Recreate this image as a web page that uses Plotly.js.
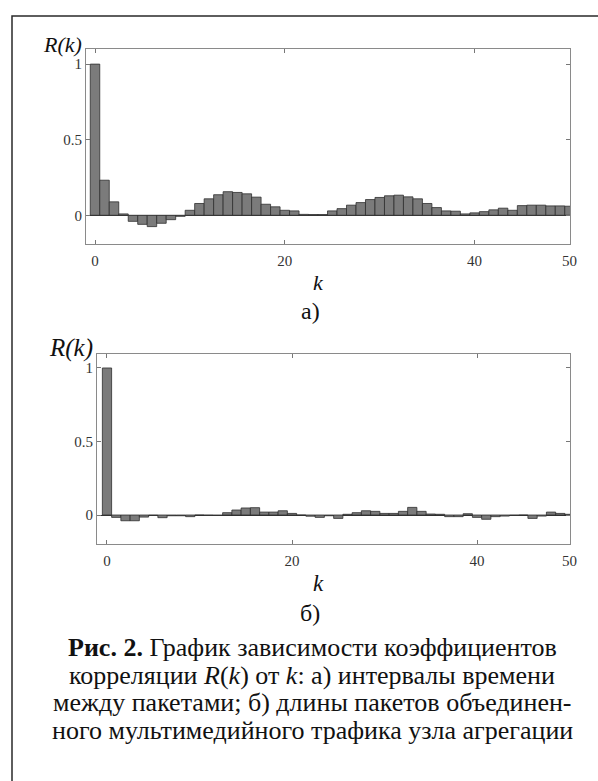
<!DOCTYPE html>
<html>
<head>
<meta charset="utf-8">
<script src="https://cdn.plot.ly/plotly-3.0.1.min.js"></script>
<style>
  html, body { margin: 0; padding: 0; background: #ffffff; }
  #chart { width: 598px; height: 781px; }
</style>
</head>
<body>
<div id="chart"></div>
<script>
// ---- data ----
const lagsA = [0,1,2,3,4,5,6,7,8,9,10,11,12,13,14,15,16,17,18,19,20,21,22,23,24,25,26,27,28,29,30,31,32,33,34,35,36,37,38,39,40,41,42,43,44,45,46,47,48,49,50];
const corrA = [1.0, 0.232, 0.089, 0.009, -0.040, -0.060, -0.075, -0.053, -0.029, -0.007,
               0.033, 0.078, 0.109, 0.136, 0.156, 0.151, 0.142, 0.120, 0.073, 0.056,
               0.033, 0.029, 0.006, 0.005, 0.005, 0.029, 0.044, 0.067, 0.084, 0.104,
               0.118, 0.129, 0.133, 0.122, 0.109, 0.078, 0.051, 0.029, 0.027, 0.009,
               0.016, 0.024, 0.036, 0.047, 0.033, 0.064, 0.067, 0.067, 0.062, 0.062, 0.060];
const lagsB = [0,1,2,3,4,5,6,7,8,9,10,11,12,13,14,15,16,17,18,19,20,21,22,23,24,25,26,27,28,29,30,31,32,33,34,35,36,37,38,39,40,41,42,43,44,45,46,47,48,49,50];
const corrB = [1.0, -0.016, -0.039, -0.039, -0.014, -0.002, -0.018, -0.005, -0.005, -0.011,
               0.0, -0.002, -0.003, 0.016, 0.034, 0.048, 0.050, 0.020, 0.020, 0.029,
               0.011, 0.0, -0.008, -0.016, -0.005, -0.023, 0.005, 0.016, 0.029, 0.025,
               0.011, 0.011, 0.025, 0.052, 0.025, 0.007, 0.005, -0.011, -0.011, 0.009,
               -0.016, -0.029, -0.011, -0.007, -0.002, 0.0, -0.023, -0.007, 0.020, 0.011, 0.005];
const xTickVals = [0, 20, 40, 50];
const xTickText = ['0', '20', '40', '50'];
const yTickVals = [0, 0.5, 1];
const yTickText = ['0', '0.5', '1'];
const yLabel = '<i>R(k)</i>';
const xLabel = '<i>k</i>';
const panelLabels = ['а)', 'б)'];
const captionLines = [
  '<b>Рис. 2.</b> График зависимости коэффициентов',
  'корреляции <i>R</i>(<i>k</i>) от <i>k</i>: а) интервалы времени',
  'между пакетами; б) длины пакетов объединен-',
  'ного мультимедийного трафика узла агрегации'
];

// ---- layout helpers (pixel -> paper) ----
const W = 598, H = 781;
const px = x => x / W;
const py = y => 1 - y / H;
const serif = 'Liberation Serif';

const barStyle = {
  color: '#7b7b7b',
  line: { color: '#2e2e2e', width: 0.8 }
};

function axisX(domain, range, anchor) {
  return {
    domain: domain, range: range, anchor: anchor,
    tickmode: 'array', tickvals: xTickVals, ticktext: xTickText,
    ticks: 'inside', ticklen: 4, tickcolor: '#777', mirror: 'allticks',
    showline: true, linecolor: '#8a8a8a', linewidth: 1,
    showgrid: false, zeroline: false, fixedrange: true,
    ticklabelstandoff: 3,
    tickfont: { family: serif, size: 15, color: '#333' }
  };
}
function axisY(domain, range, anchor) {
  return {
    domain: domain, range: range, anchor: anchor,
    tickmode: 'array', tickvals: yTickVals, ticktext: yTickText,
    ticks: 'inside', ticklen: 4, tickcolor: '#777', mirror: 'allticks',
    showline: true, linecolor: '#8a8a8a', linewidth: 1,
    showgrid: false, zeroline: true, zerolinecolor: '#333', zerolinewidth: 1,
    fixedrange: true,
    tickfont: { family: serif, size: 15, color: '#333' }
  };
}

const traces = [
  { type: 'bar', x: lagsA, y: corrA, xaxis: 'x', yaxis: 'y', marker: barStyle, width: 1, hoverinfo: 'skip' },
  { type: 'bar', x: lagsB, y: corrB, xaxis: 'x2', yaxis: 'y2', marker: barStyle, width: 1, hoverinfo: 'skip' }
];

const ann = [];
function text(t, x, y, size, opts) {
  ann.push(Object.assign({
    text: t, xref: 'paper', yref: 'paper', x: px(x), y: py(y),
    xanchor: 'center', yanchor: 'middle', showarrow: false,
    font: { family: serif, size: size, color: '#111' }
  }, opts || {}));
}
text(yLabel, 62, 45, 22);
text(yLabel, 71, 348, 25);
text(xLabel, 318, 282, 22);
text(panelLabels[0], 310, 311, 24);
text(xLabel, 318, 583, 23);
text(panelLabels[1], 310, 613, 24);
captionLines.forEach((line, i) => text(line, 312, [647, 675, 702, 730][i], 26));

const layout = {
  width: W, height: H,
  margin: { l: 0, r: 0, t: 0, b: 0 },
  paper_bgcolor: '#ffffff', plot_bgcolor: '#ffffff',
  font: { family: serif },
  showlegend: false, bargap: 0,
  xaxis: axisX([px(86), px(570)], [-0.95, 50.05], 'y'),
  yaxis: axisY([py(244), py(49)], [-0.19, 1.10], 'x'),
  xaxis2: axisX([px(97), px(570)], [-1.08, 50.05], 'y2'),
  yaxis2: axisY([py(544), py(354)], [-0.197, 1.095], 'x2'),
  annotations: ann,
  shapes: [{
    type: 'rect', xref: 'paper', yref: 'paper',
    x0: px(12), x1: 1.05, y0: -0.05, y1: py(16),
    line: { color: '#2a2a2a', width: 1.5 }, fillcolor: 'rgba(0,0,0,0)'
  }]
};

Plotly.newPlot('chart', traces, layout, { displayModeBar: false, staticPlot: true });
</script>
</body>
</html>
